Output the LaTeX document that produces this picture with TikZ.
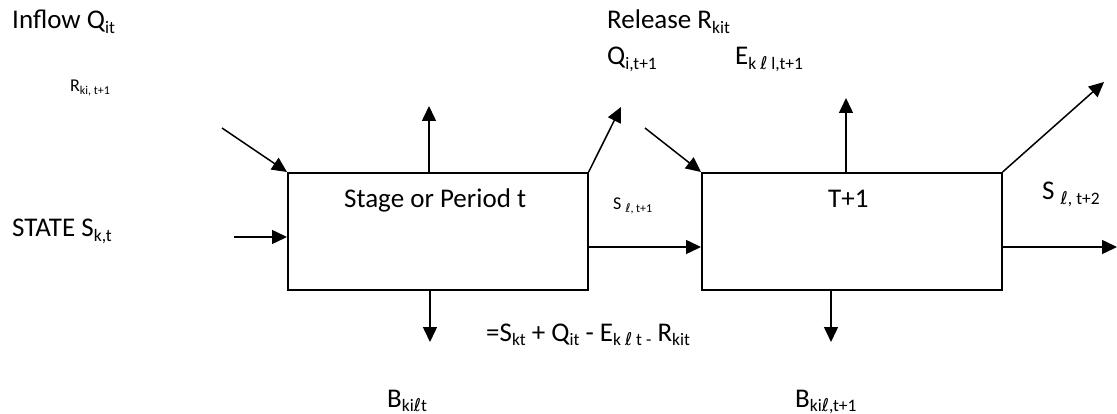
\documentclass[tikz,border=0pt]{standalone}
\usepackage{fontspec}
\setmainfont{Carlito}
\newfontfamily\dvs{DejaVu Sans}
\usetikzlibrary{arrows.meta}
\newcommand\bigt{\fontsize{27}{32}\selectfont}
\newcommand\smallt{\fontsize{18}{22}\selectfont}
\newcommand\sbx[1]{\raisebox{-0.15em}{\fontsize{17.5}{20}\selectfont #1}}
\newcommand\sbs[1]{\raisebox{-0.15em}{\fontsize{12}{14}\selectfont #1}}
\newcommand\myell{{\dvs\char"2113}}
\begin{document}
\begin{tikzpicture}[x=1pt,y=-1pt,
  lbl/.style={anchor=base west,inner sep=0pt,font=\bigt},
  slbl/.style={anchor=base west,inner sep=0pt,font=\smallt},
  boxst/.style={draw,line width=1.6pt,anchor=north west,inner sep=0pt},
  arr/.style={line width=1.5pt,-{Triangle[length=15pt,width=14pt]}}]
\useasboundingbox (0,0) rectangle (1117,414);
% boxes
\node[boxst,minimum width=300pt,minimum height=117pt] (b1) at (287,172) {};
\node[boxst,minimum width=300pt,minimum height=117pt] (b2) at (701,172) {};
% box texts
\node[lbl] (t1) at (344,208) {Stage or Period t};
\node[lbl] (t2) at (828,208) {T+1};
% labels
\node[lbl] (inflow) at (12,29) {Inflow Q\sbx{it}};
\node[slbl] (rki) at (70,92) {R\sbs{ki, t+1}};
\node[lbl] (state) at (12,237) {STATE S\sbx{k,t}};
\node[lbl] (rel) at (607,29) {Release R\sbx{kit}};
\node[lbl] (qi) at (607,65) {Q\sbx{i,t+1}};
\node[lbl] (ek) at (735,65) {E\sbx{k \myell{} l,t+1}};
\node[slbl] (sl1) at (613,210) {S \sbs{\myell, t+1}};
\node[lbl] (sl2) at (1042,200) {S \sbx{\myell, t+2}};
\node[lbl] (eq) at (486,341) {=S\sbx{kt} + Q\sbx{it} - E\sbx{k \myell{} t -} R\sbx{kit}};
\node[lbl] (bk1) at (387,407) {B\sbx{ki\myell{}t}};
\node[lbl] (bk2) at (795,407) {B\sbx{ki\myell{},t+1}};
% free ends
\coordinate (in1) at (222,128);
\coordinate (st1) at (234,237);
\coordinate (up1) at (429,106);
\coordinate (rel1) at (621,107);
\coordinate (dn1) at (430,342);
\coordinate (in2) at (645,128);
\coordinate (up2) at (846,98);
\coordinate (out2) at (1104,82);
\coordinate (dn2) at (831,342);
\coordinate (st2) at (1117,247);
% connectors
\draw[arr] (in1) -- (b1.north west);
\draw[arr] (st1) -- (st1 -| b1.west);
\draw[arr] (up1 |- b1.north) -- (up1);
\draw[arr] (b1.north east) -- (rel1);
\draw[arr] (dn1 |- b1.south) -- (dn1);
\draw[arr] (b1.east |- 0,247) -- (b2.west |- 0,247);
\draw[arr] (in2) -- (b2.north west);
\draw[arr] (up2 |- b2.north) -- (up2);
\draw[arr] (b2.north east) -- (out2);
\draw[arr] (dn2 |- b2.south) -- (dn2);
\draw[arr] (b2.east |- st2) -- (st2);
\end{tikzpicture}
\end{document}
